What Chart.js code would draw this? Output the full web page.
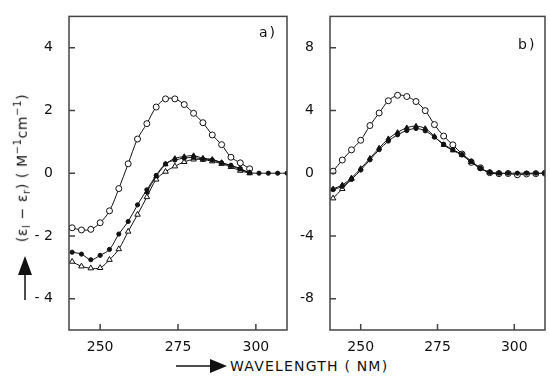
<!DOCTYPE html>
<html>
<head>
<meta charset="utf-8">
<script src="https://cdn.jsdelivr.net/npm/chart.js@4.4.0/dist/chart.umd.min.js"></script>
<style>
  body { margin: 0; background: #fff; width: 550px; height: 377px; overflow: hidden; position: relative; font-family: "DejaVu Sans", sans-serif; color: #111; }
  canvas { position: absolute; top: 0; }
  .ytitle { position: absolute; left: 22px; top: 168px; transform: translate(-50%, -50%) rotate(-90deg); white-space: nowrap; font-size: 14px; letter-spacing: 0.6px; }
  .ytitle sub, .ytitle sup { font-size: 10px; }
  .xtitle { position: absolute; left: 230px; top: 358px; font-size: 14px; letter-spacing: 1.2px; white-space: nowrap; }
  .tag { position: absolute; font-size: 14px; letter-spacing: 2px; }
</style>
</head>
<body>
<canvas id="chartA"></canvas>
<canvas id="chartB"></canvas>
<div class="ytitle">(ε<sub>l</sub> − ε<sub>r</sub>) ( M<sup>−1</sup>cm<sup>−1</sup>)</div>
<div class="xtitle">WAVELENGTH ( NM)</div>
<div class="tag" style="left:259px; top:24px;">a)</div>
<div class="tag" style="left:518px; top:36px;">b)</div>
<svg width="550" height="377" style="position:absolute;left:0;top:0;pointer-events:none">
  <line x1="25" y1="300" x2="25" y2="270" stroke="#111" stroke-width="1.5"/>
  <polygon points="25,256 18,275 32,275" fill="#111"/>
  <line x1="176" y1="366" x2="212" y2="366" stroke="#111" stroke-width="1.5"/>
  <polygon points="227,366 210,359 210,373" fill="#111"/>
</svg>
<script>
// wavelengths (nm), step 3
var wavelengths = [241, 244, 247, 250, 253, 256, 259, 262, 265, 268, 271, 274, 277, 280, 283, 286, 289, 292, 295, 298, 301, 304, 307, 310];
var xTicks = [250, 275, 300];

// panel a
var aOpenCircles   = [-1.74, -1.81, -1.79, -1.58, -1.20, -0.49, 0.30, 1.09, 1.58, 2.11, 2.37, 2.37, 2.19, 1.91, 1.61, 1.22, 0.91, 0.51, 0.33, 0.14, null, null, null, null];
var aFilledCircles = [-2.52, -2.58, -2.76, -2.62, -2.43, -1.94, -1.54, -1.01, -0.53, -0.07, 0.30, 0.42, 0.48, 0.50, 0.45, 0.42, 0.33, 0.25, 0.15, 0.02, 0, 0, 0, 0];
var aOpenTriangles = [-2.82, -2.97, -3.03, -3.02, -2.76, -2.42, -1.86, -1.32, -0.76, -0.20, 0.05, 0.22, 0.36, 0.44, 0.43, 0.38, 0.30, 0.20, 0.08, 0.00, null, null, null, null];
var aFilledTriangles = [null, null, null, null, null, null, null, null, -0.60, -0.10, 0.28, 0.47, 0.53, 0.56, 0.48, 0.44, 0.34, 0.24, 0.12, 0.02, null, null, null, null];
var aYTicks = [-4, -2, 0, 2, 4];

// panel b
var bOpenCircles   = [0.13, 0.84, 1.49, 2.10, 3.04, 3.84, 4.62, 4.97, 4.89, 4.57, 3.99, 3.10, 2.37, 1.81, 1.22, 0.69, 0.34, 0.03, -0.03, -0.02, -0.10, -0.05, -0.03, 0];
var bFilledCircles = [-1.05, -0.84, -0.40, 0.20, 0.85, 1.50, 2.05, 2.45, 2.72, 2.85, 2.70, 2.30, 1.85, 1.50, 1.20, 0.78, 0.32, 0.05, 0, 0, 0, 0, 0, 0];
var bFilledTriangles = [-1.00, -0.75, -0.30, 0.30, 0.95, 1.60, 2.20, 2.60, 2.90, 3.00, 2.85, 2.35, 1.80, 1.45, 1.15, 0.70, 0.30, 0.05, 0, null, null, null, null, null];
var bOpenTriangles = [-1.60, -1.00, -0.35, null, null, null, null, null, null, null, null, null, null, null, null, null, null, null, null, null, null, null, null, null];
var bYTicks = [-8, -4, 0, 4, 8];

function pts(vals) {
    return wavelengths.map(function(w, i) { return { x: w, y: vals[i] }; });
}

function series(vals, style, filled, r) {
    return {
        data: pts(vals),
        borderColor: '#111',
        borderWidth: 1,
        backgroundColor: filled ? '#111' : '#fff',
        pointBorderColor: '#111',
        pointBackgroundColor: filled ? '#111' : '#fff',
        pointStyle: style,
        pointRadius: r,
        pointBorderWidth: 1,
        tension: 0.35,
        spanGaps: false,
        fill: false
    };
}

// frame + inward ticks
var frame = {
    id: 'frame',
    afterDraw: function(chart) {
        var c = chart.ctx, a = chart.chartArea;
        var xs = chart.scales.x, ys = chart.scales.y;
        c.save();
        c.strokeStyle = '#444';
        c.lineWidth = 1.5;
        c.strokeRect(a.left, a.top, a.right - a.left, a.bottom - a.top);
        c.beginPath();
        xs.ticks.forEach(function(t) {
            var px = xs.getPixelForValue(t.value);
            c.moveTo(px, a.bottom);
            c.lineTo(px, a.bottom - 6);
        });
        ys.ticks.forEach(function(t) {
            var py = ys.getPixelForValue(t.value);
            c.moveTo(a.left, py);
            c.lineTo(a.left + 6, py);
        });
        c.stroke();
        c.restore();
    }
};

function makeChart(id, left, width, yW, yMax, yTicks, labelFn, datasets) {
    var cv = document.getElementById(id);
    cv.style.left = left + 'px';
    cv.width = width;
    cv.height = 356;
    return new Chart(cv.getContext('2d'), {
        type: 'line',
        data: { datasets: datasets },
        plugins: [frame],
        options: {
            responsive: false,
            animation: false,
            layout: { padding: { top: 13, right: 2, left: 0, bottom: 0 } },
            plugins: { legend: { display: false }, tooltip: { enabled: false } },
            scales: {
                x: {
                    type: 'linear', min: 240, max: 310,
                    grid: { display: false },
                    border: { display: false },
                    afterBuildTicks: function(s) { s.ticks = xTicks.map(function(v) { return { value: v }; }); },
                    afterFit: function(s) { s.height = 26; },
                    ticks: { color: '#111', font: { family: 'DejaVu Sans', size: 14 }, padding: 1, maxRotation: 0 }
                },
                y: {
                    type: 'linear', min: -yMax, max: yMax,
                    grid: { display: false },
                    border: { display: false },
                    afterBuildTicks: function(s) { s.ticks = yTicks.map(function(v) { return { value: v }; }); },
                    afterFit: function(s) { s.width = yW; },
                    ticks: { color: '#111', font: { family: 'DejaVu Sans', size: 14 }, padding: 8, callback: labelFn }
                }
            }
        }
    });
}

makeChart('chartA', 0, 292, 69, 5, aYTicks,
    function(v) { return v < 0 ? '- ' + Math.abs(v) : String(v); },
    [
        series(aFilledCircles, 'circle', true, 2.1),
        series(aFilledTriangles, 'triangle', true, 2.8),
        series(aOpenCircles, 'circle', false, 3),
        series(aOpenTriangles, 'triangle', false, 3.2)
    ]);

makeChart('chartB', 292, 258, 38, 10, bYTicks,
    function(v) { return v < 0 ? '-' + Math.abs(v) : String(v); },
    [
        series(bFilledCircles, 'circle', true, 2.1),
        series(bFilledTriangles, 'triangle', true, 2.8),
        series(bOpenCircles, 'circle', false, 3),
        series(bOpenTriangles, 'triangle', false, 3.2)
    ]);
</script>
</body>
</html>
